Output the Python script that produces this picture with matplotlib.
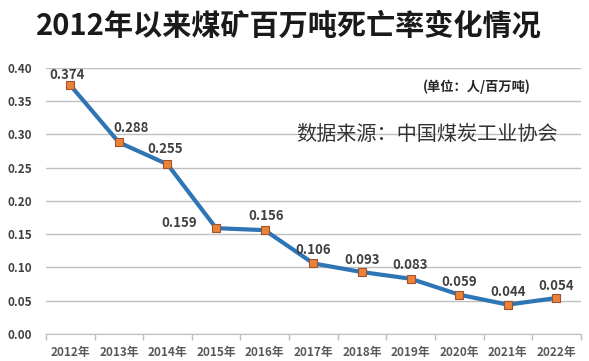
import matplotlib
matplotlib.use("Agg")
import matplotlib.pyplot as plt

plt.rcParams['font.family'] = ['Noto Sans CJK SC', 'DejaVu Sans']

# data
years = ["2012年", "2013年", "2014年", "2015年", "2016年", "2017年",
         "2018年", "2019年", "2020年", "2021年", "2022年"]
rates = [0.374, 0.288, 0.255, 0.159, 0.156, 0.106, 0.093, 0.083, 0.059, 0.044, 0.054]
yticks = [0.00, 0.05, 0.10, 0.15, 0.20, 0.25, 0.30, 0.35, 0.40]

# label offsets (points) relative to each marker
label_offsets = [(-2, 7), (9, 10), (-2, 11), (-14, 4), (1, 10), (0, 10),
                 (0, 9), (0, 10), (0, 9), (0, 9), (0, 9)]
label_ha = ["center", "center", "center", "right", "center", "center",
            "center", "center", "center", "center", "center"]

fig = plt.figure(figsize=(5.89, 3.61), dpi=100)
ax = fig.add_axes([0.078, 0.075, 0.908, 0.737])

x = list(range(len(years)))
ax.plot(x, rates, color="#2E75B6", lw=3, zorder=3, solid_joinstyle="miter")
ax.plot(x, rates, ls="none", marker="s", ms=5.5, mfc="#E8833A", mec="#A0522D",
        mew=0.8, zorder=4)

for xi, v, off, ha in zip(x, rates, label_offsets, label_ha):
    ax.annotate(f"{v:.3f}", (xi, v), xytext=off, textcoords="offset points",
                ha=ha, va="center", fontsize=9.5, fontweight="bold",
                color="#404040", zorder=5)

ax.set_xlim(-0.5, len(years) - 0.5)
ax.set_ylim(0, 0.40)
ax.set_yticks(yticks)
ax.set_yticklabels([f"{t:.2f}" for t in yticks], fontsize=8.5,
                   fontweight="bold", color="#404040")
ax.set_xticks(x)
ax.set_xticklabels(years, fontsize=8.5, fontweight="bold", color="#595959")
ax.set_xticks([i - 0.5 for i in range(len(years) + 1)], minor=True)
ax.tick_params(axis="x", which="major", length=0, pad=9)
ax.tick_params(axis="x", which="minor", length=4, color="#BFBFBF", width=1)
ax.tick_params(axis="y", length=0, pad=10)

ax.grid(axis="y", color="#BFBFBF", lw=1)
ax.set_axisbelow(True)
for s in ["top", "right", "left"]:
    ax.spines[s].set_visible(False)
ax.spines["bottom"].set_color("#BFBFBF")

fig.text(0.49, 0.93, "2012年以来煤矿百万吨死亡率变化情况", ha="center",
         va="center", fontsize=21, fontweight="bold", color="#1a1a1a")
fig.text(0.809, 0.76, "(单位：人/百万吨)", ha="center", va="center",
         fontsize=9.5, fontweight="bold", color="#262626")
fig.text(0.725, 0.627, "数据来源：中国煤炭工业协会", ha="center", va="center",
         fontsize=14.5, color="#333333")

fig.savefig("out.png", dpi=100)
